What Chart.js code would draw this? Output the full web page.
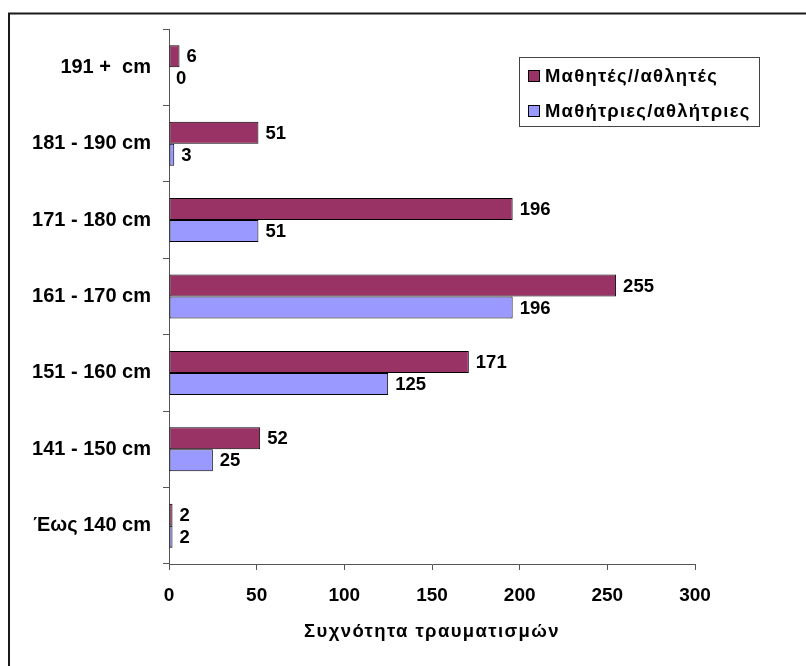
<!DOCTYPE html>
<html>
<head>
<meta charset="utf-8">
<script src="https://cdn.jsdelivr.net/npm/chart.js@4.4.1/dist/chart.umd.min.js"></script>
<style>
  html, body { margin: 0; padding: 0; background: #ffffff; }
  #wrap { width: 806px; height: 666px; position: relative; }
</style>
</head>
<body>
<div id="wrap"><canvas id="c" width="806" height="666"></canvas></div>
<script>
// Height groups (top to bottom) and injury counts per group
const categories = ["191 +  cm", "181 - 190 cm", "171 - 180 cm", "161 - 170 cm", "151 - 160 cm", "141 - 150 cm", "Έως 140 cm"];
const boysLabel = "Μαθητές//αθλητές";
const girlsLabel = "Μαθήτριες/αθλήτριες";
const boysValues = [6, 51, 196, 255, 171, 52, 2];
const girlsValues = [0, 3, 51, 196, 125, 25, 2];
const xTickValues = [0, 50, 100, 150, 200, 250, 300];
const xTitle = "Συχνότητα τραυματισμών";

const FONT_FAMILY = "'Liberation Sans', Arial, sans-serif";

// Outer frame around the whole figure
const framePlugin = {
  id: 'frame',
  beforeDraw(chart) {
    const ctx = chart.ctx;
    ctx.save();
    ctx.fillStyle = '#ffffff';
    ctx.fillRect(0, 0, chart.width, chart.height);
    ctx.strokeStyle = '#1a1a1a';
    ctx.lineWidth = 2;
    ctx.strokeRect(9, 13.5, 1000, 1000);
    ctx.restore();
  }
};

// Value labels to the right of each bar end
const valueLabelPlugin = {
  id: 'valueLabels',
  afterDatasetsDraw(chart) {
    const ctx = chart.ctx;
    ctx.save();
    ctx.font = "bold 18.5px " + FONT_FAMILY;
    ctx.fillStyle = '#000000';
    ctx.textAlign = 'left';
    ctx.textBaseline = 'middle';
    chart.data.datasets.forEach((ds, di) => {
      const meta = chart.getDatasetMeta(di);
      meta.data.forEach((bar, i) => {
        ctx.fillText(String(ds.data[i]), bar.x + 7, bar.y + 1);
      });
    });
    ctx.restore();
  }
};

// X axis title, centred under the plot area
const xTitlePlugin = {
  id: 'xTitle',
  afterDraw(chart) {
    const ctx = chart.ctx;
    const area = chart.chartArea;
    ctx.save();
    ctx.font = "bold 18.5px " + FONT_FAMILY;
    if ('letterSpacing' in ctx) ctx.letterSpacing = '1.4px';
    ctx.fillStyle = '#000000';
    ctx.textAlign = 'center';
    ctx.textBaseline = 'middle';
    ctx.fillText(xTitle, (area.left + area.right) / 2, 632);
    ctx.restore();
  }
};

// Boxed legend in the upper right of the plot area
const boxLegendPlugin = {
  id: 'boxLegend',
  afterDraw(chart) {
    const ctx = chart.ctx;
    const box = { x: 519.5, y: 57.5, w: 240, h: 69 };
    ctx.save();
    ctx.fillStyle = '#ffffff';
    ctx.fillRect(box.x, box.y, box.w, box.h);
    ctx.strokeStyle = '#444444';
    ctx.lineWidth = 1;
    ctx.strokeRect(box.x, box.y, box.w, box.h);
    ctx.font = "bold 18.5px " + FONT_FAMILY;
    if ('letterSpacing' in ctx) ctx.letterSpacing = '1.2px';
    ctx.textAlign = 'left';
    ctx.textBaseline = 'middle';
    chart.data.datasets.forEach((ds, i) => {
      const cy = 76 + i * 35;
      ctx.fillStyle = ds.backgroundColor;
      ctx.fillRect(528.5, cy - 5.5, 11, 11);
      ctx.strokeStyle = '#000000';
      ctx.strokeRect(528.5, cy - 5.5, 11, 11);
      ctx.fillStyle = '#000000';
      ctx.fillText(ds.label, 545, cy + 1);
    });
    ctx.restore();
  }
};

new Chart(document.getElementById('c'), {
  type: 'bar',
  data: {
    labels: categories,
    datasets: [
      {
        label: boysLabel,
        data: boysValues,
        backgroundColor: '#993366',
        borderColor: '#000000',
        borderWidth: 1,
        borderSkipped: false,
        categoryPercentage: 0.576,
        barPercentage: 1.0
      },
      {
        label: girlsLabel,
        data: girlsValues,
        backgroundColor: '#9999FF',
        borderColor: '#000000',
        borderWidth: 1,
        borderSkipped: false,
        categoryPercentage: 0.576,
        barPercentage: 1.0
      }
    ]
  },
  options: {
    indexAxis: 'y',
    responsive: false,
    animation: false,
    devicePixelRatio: 1,
    layout: { padding: { left: 0, top: 29, right: 111, bottom: 0 } },
    plugins: {
      legend: { display: false },
      tooltip: { enabled: false },
      title: { display: false }
    },
    scales: {
      x: {
        type: 'linear',
        min: 0,
        max: 300,
        afterBuildTicks(scale) {
          scale.ticks = xTickValues.map(v => ({ value: v }));
        },
        afterFit(scale) { scale.height = 102; },
        grid: {
          drawOnChartArea: false,
          drawTicks: true,
          tickLength: 6,
          color: '#555555'
        },
        border: { display: true, color: '#555555', width: 1 },
        ticks: {
          color: '#000000',
          padding: 14,
          font: { family: FONT_FAMILY, size: 19, weight: 'bold' }
        },
        title: { display: false }
      },
      y: {
        type: 'category',
        afterFit(scale) { scale.width = 169; },
        grid: {
          drawOnChartArea: false,
          drawTicks: true,
          tickLength: 6,
          offset: true,
          color: '#555555'
        },
        border: { display: true, color: '#555555', width: 1 },
        ticks: {
          color: '#000000',
          padding: 12,
          font: { family: FONT_FAMILY, size: 20, weight: 'bold' }
        }
      }
    }
  },
  plugins: [framePlugin, valueLabelPlugin, xTitlePlugin, boxLegendPlugin]
});
</script>
</body>
</html>
